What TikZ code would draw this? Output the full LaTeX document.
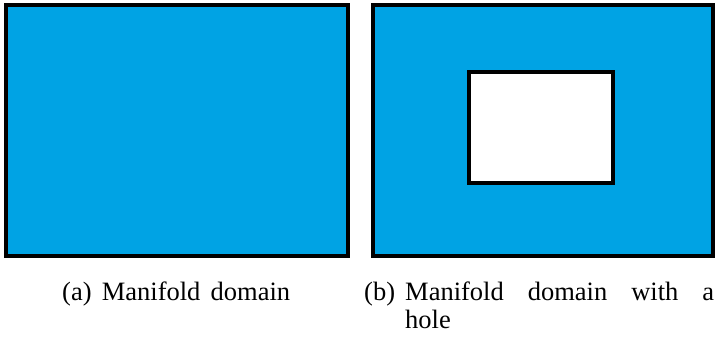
\documentclass[tikz,border=0pt]{standalone}
\usepackage{fontspec}
\setmainfont{Liberation Serif}
\definecolor{manifold}{RGB}{0,163,228}
\tikzset{
  manifoldbox/.style={draw=black, line width=4pt, fill=manifold},
  holebox/.style={draw=black, line width=4pt, fill=white},
  captext/.style={inner sep=0pt, font=\fontsize{26.5}{28}\selectfont}
}
\begin{document}
\begin{tikzpicture}[x=1pt, y=-1pt]
\useasboundingbox (0,0) rectangle (720,337);
% (a) plain domain
\draw[manifoldbox] (5.5,5) rectangle (347.5,255.5);
\node[captext, anchor=base west] (capa) at (62,300) {\makebox[228pt][s]{(a) Manifold domain}};
% (b) domain with a hole
\draw[manifoldbox] (372.5,5) rectangle (712.5,255.5);
\draw[holebox] (469,72) rectangle (612.5,183);
\node[captext, anchor=base west] (labb) at (364,300) {(b)};
\node[captext, anchor=base west] (capb) at (405,300) {\makebox[309pt][s]{Manifold domain with a}};
\node[captext, anchor=base west] (capb2) at (405,328) {hole};
\end{tikzpicture}
\end{document}
